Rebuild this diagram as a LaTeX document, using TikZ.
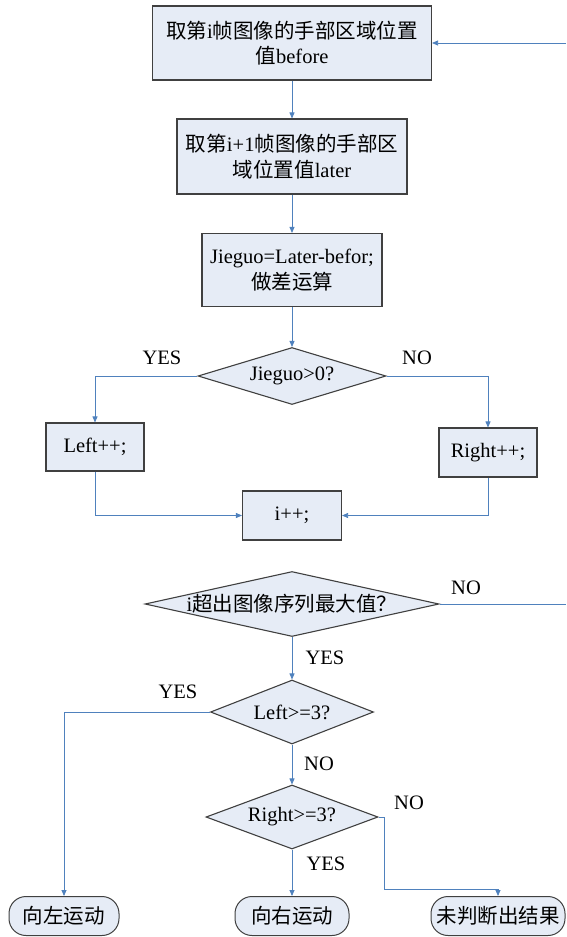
\documentclass[tikz,border=0pt]{standalone}
\usepackage{fontspec}
\setmainfont{Liberation Serif}
\newfontfamily\cjkfont{Noto Sans CJK SC}
\newcommand*{\zh}[1]{{\cjkfont #1}}
\usetikzlibrary{shapes.geometric,arrows.meta}

\definecolor{boxFill}{RGB}{230,236,246}
\definecolor{boxLine}{RGB}{64,64,64}
\definecolor{flowBlue}{RGB}{79,129,189}

\newcommand*{\xMid}{292}
\newcommand*{\xRight}{566}
\newcommand*{\yBottom}{937}

\tikzset{
	every node/.style={font=\fontsize{20.5}{25.5}\selectfont},
	procbox/.style={rectangle, draw=boxLine, line width=1.1pt, fill=boxFill, align=center, inner sep=0pt},
	decision/.style={diamond, draw=boxLine, line width=1.1pt, fill=boxFill, inner sep=-3pt, aspect=3},
	terminal/.style={rectangle, rounded corners=17pt, draw=boxLine, line width=1pt, fill=boxFill, minimum height=39pt, inner sep=0pt},
	flow/.style={draw=flowBlue, line width=0.8pt, -{Triangle[length=6pt,width=5pt]}},
	flowplain/.style={draw=flowBlue, line width=0.8pt},
	lbl/.style={inner sep=0pt}
}

\begin{document}
\begin{tikzpicture}[x=1pt, y=-1pt]
	\useasboundingbox (0,0) rectangle (\xRight,\yBottom);
	%\draw [very thin,gray,step=50] (0,0) grid (\xRight,\yBottom);

	% upper loop
	\node[procbox, minimum width=279pt, minimum height=74pt] (before) at (\xMid,43) {\zh{取第}i\zh{帧图像的手部区域位置}\\\zh{值}before};
	\node[procbox, minimum width=230pt, minimum height=75pt] (later) at (\xMid,156.5) {\zh{取第}i+1\zh{帧图像的手部区}\\\zh{域位置值}later};
	\node[procbox, minimum width=180pt, minimum height=73pt] (diff) at (\xMid,270) {Jieguo=Later-befor;\\\zh{做差运算}};
	\node[decision, minimum width=188pt, minimum height=57pt] (sign) at (\xMid,376) {Jieguo>0?};
	\node[procbox, minimum width=98pt, minimum height=48pt] (left) at (95,447) {Left++;};
	\node[procbox, minimum width=98pt, minimum height=49pt] (right) at (488,452.5) {Right++;};
	\node[procbox, minimum width=99pt, minimum height=49pt] (inc) at (\xMid,515.5) {i++;};

	% lower part
	\node[decision, aspect=4.5, minimum width=294pt, minimum height=65pt] (maxq) at (\xMid,604) {i\zh{超出图像序列最大值？}};
	\node[decision, minimum width=163pt, minimum height=64pt] (leftq) at (\xMid,712) {Left>=3?};
	\node[decision, minimum width=172pt, minimum height=64pt] (rightq) at (\xMid,817) {Right>=3?};
	\node[terminal, minimum width=110pt] (goleft) at (64,916) {\zh{向左运动}};
	\node[terminal, minimum width=114pt] (goright) at (\xMid,916) {\zh{向右运动}};
	\node[terminal, minimum width=134pt] (nores) at (498,916) {\zh{未判断出结果}};

	\coordinate (backin) at (\xRight,43);
	\coordinate (backout) at (\xRight,604);

	\draw[flow] (backin) -- (before.east);
	\draw[flow] (before.south) -- (later.north);
	\draw[flow] (later.south) -- (diff.north);
	\draw[flow] (diff.south) -- (sign.north);
	\draw[flow] (sign.west) -| (left.north);
	\draw[flow] (sign.east) -| (right.north);
	\draw[flow] (left.south) |- (inc.west);
	\draw[flow] (right.south) |- (inc.east);

	\draw[flowplain] (maxq.east) -- (backout);
	\draw[flow] (maxq.south) -- (leftq.north);
	\draw[flow] (leftq.west) -| (goleft.north);
	\draw[flow] (leftq.south) -- (rightq.north);
	\draw[flow] (rightq.south) -- (goright.north);
	\draw[flow] (rightq.east) -- ++(6,0) -- ++(0,72) -| (nores.north);

	\foreach \x/\y/\t [count=\k] in {162/358/YES, 417/358/NO, 466/588/NO, 325/658/YES, 178/692/YES, 319/764/NO, 409/803/NO, 326/864/YES} {
		\node[lbl] (tag\k) at (\x,\y) {\t};
	}
\end{tikzpicture}
\end{document}
